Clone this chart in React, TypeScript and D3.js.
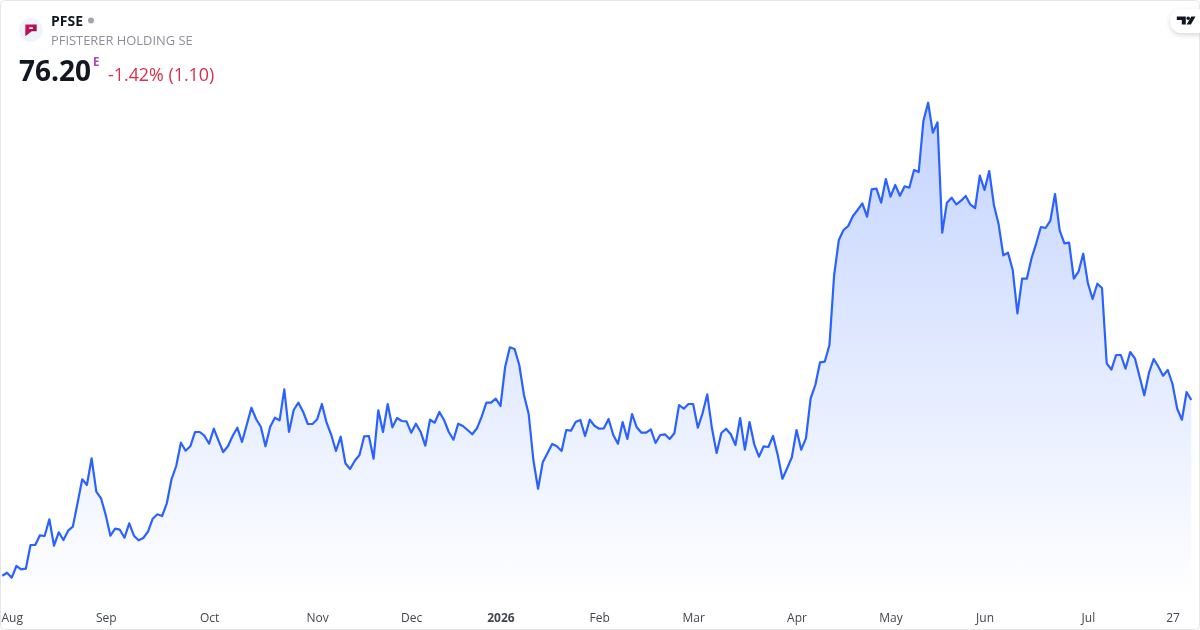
import React, { useEffect, useRef } from 'react';
import * as d3 from 'd3';

const width = 1200;
const height = 630;

// closing prices
const prices = [
  41.06, 41.66, 40.66, 43.0, 42.34, 42.46, 47.2, 47.2, 49.14, 49.0, 52.34, 47.06, 49.74, 48.2, 50.06, 50.86,
  55.54, 60.34, 59.2, 64.54, 57.86, 56.54, 53.2, 49.06, 50.46, 50.26, 48.66, 51.54, 49.06, 48.14, 48.6, 49.86,
  52.46, 53.34, 53.0, 55.54, 60.34, 63.0, 67.66, 66.06, 66.94, 69.8, 69.8, 69.06, 67.46, 70.46, 68.06, 65.8,
  66.94, 69.0, 70.66, 67.8, 71.2, 74.66, 72.4, 70.86, 66.94, 70.86, 72.66, 72.14, 78.34, 69.8, 74.2, 75.66,
  73.86, 71.4, 71.4, 72.34, 75.4, 71.66, 69.2, 66.0, 68.86, 63.54, 62.4, 64.06, 65.2, 68.94, 69.0, 64.46,
  74.14, 69.8, 75.4, 70.74, 72.6, 72.0, 71.94, 69.66, 71.46, 69.86, 67.06, 72.26, 71.66, 73.8, 72.2, 69.8,
  68.26, 71.46, 71.0, 70.2, 69.34, 70.54, 72.86, 75.66, 75.66, 76.46, 75.0, 82.86, 86.74, 86.4, 83.2, 77.2,
  73.4, 64.2, 58.46, 63.74, 65.54, 67.4, 66.94, 66.0, 70.2, 70.06, 71.8, 72.2, 69.0, 72.26, 71.06, 70.46,
  70.54, 72.4, 69.2, 67.46, 71.8, 68.4, 73.4, 70.74, 69.66, 69.66, 70.34, 67.6, 69.2, 69.34, 68.4, 69.54,
  75.2, 74.46, 75.4, 75.4, 70.66, 73.54, 77.34, 70.54, 65.6, 69.6, 70.46, 69.34, 67.2, 72.6, 66.26, 71.8,
  67.34, 64.86, 66.94, 66.8, 69.0, 65.2, 60.46, 62.54, 64.74, 70.2, 66.26, 68.54, 76.54, 79.2, 83.74, 83.86,
  87.2, 101.2, 108.2, 110.2, 111.0, 113.0, 114.2, 115.54, 112.86, 118.34, 118.46, 115.66, 120.4, 116.86, 119.2, 117.06,
  118.94, 118.66, 122.2, 121.8, 132.06, 135.66, 129.66, 131.74, 109.66, 115.66, 116.66, 115.34, 116.06, 117.0, 115.26, 114.6,
  121.06, 118.2, 122.0, 115.2, 111.34, 105.14, 105.66, 102.2, 93.54, 100.46, 100.46, 104.54, 107.54, 110.8, 110.6, 112.06,
  117.4, 110.06, 107.54, 107.66, 100.46, 101.86, 105.46, 99.54, 96.4, 99.46, 98.6, 83.54, 82.26, 85.2, 85.2, 82.46,
  85.8, 84.54, 80.86, 77.14, 81.66, 84.4, 82.86, 81.06, 82.2, 79.4, 74.46, 72.26, 77.8, 76.2,
];

// month labels and the trading day each one sits on
const tickLabels = ['Aug', 'Sep', 'Oct', 'Nov', 'Dec', '2026', 'Feb', 'Mar', 'Apr', 'May', 'Jun', 'Jul', '27'];
const tickDays = [2, 22, 44, 67, 87, 106, 127, 147, 169, 189, 209, 231, 249];

const x = d3.scaleLinear().domain([0, prices.length - 1]).range([2.33, 1191.3]);
const y = d3.scaleLinear().domain([36.2, 136.2]).range([600, 100]);

const line = d3.line<number>()
  .x((d, i) => x(i))
  .y(d => y(d));

const area = d3.area<number>()
  .x((d, i) => x(i))
  .y0(600)
  .y1(d => y(d));

const font = "'Open Sans', sans-serif";

export default function App() {
  const axisRef = useRef<SVGGElement>(null);

  useEffect(() => {
    const xAxis = d3.axisBottom(x)
      .tickValues(tickDays)
      .tickSize(0)
      .tickFormat((d, i) => tickLabels[i]);

    const g = d3.select(axisRef.current).call(xAxis as any);
    g.select('.domain').remove();
    g.selectAll('text')
      .attr('y', 0)
      .attr('dy', 0)
      .style('font-family', font)
      .style('font-size', '12px')
      .style('fill', '#42464f')
      .style('font-weight', (d, i) => (tickLabels[i] === '2026' ? 700 : 400));
  }, []);

  return (
    <svg width={width} height={height} style={{ position: 'fixed', left: 0, top: 0 }}>
      <defs>
        <linearGradient id="fill" gradientUnits="userSpaceOnUse" x1="0" y1="100" x2="0" y2="600">
          <stop offset="0" stopColor="#2962ff" stopOpacity={0.28} />
          <stop offset="1" stopColor="#2962ff" stopOpacity={0} />
        </linearGradient>
        <linearGradient id="logo" x1="0" y1="0" x2="1" y2="1">
          <stop offset="0" stopColor="#d9115f" />
          <stop offset="1" stopColor="#8c0f47" />
        </linearGradient>
        <filter id="badge" x="-30%" y="-30%" width="160%" height="170%">
          <feDropShadow dx="0" dy="2" stdDeviation="2.5" floodColor="#000" floodOpacity={0.16} />
        </filter>
      </defs>

      <rect x={0.5} y={0.5} width={width - 1} height={height - 1} rx={4} fill="#fff" stroke="#e6e6e6" />

      <path d={area(prices) as string} fill="url(#fill)" />
      <path d={line(prices) as string} fill="none" stroke="#2962ff" strokeWidth={2.2} strokeLinejoin="round" />

      <g ref={axisRef} transform="translate(0, 622)" />

      <circle cx={30.7} cy={30} r={12} fill="#f0f3fa" />
      <path d="M25.3 24.6h11.4v6.6h-5l-6.4 5z M29.3 27.2v1.7h3.6v-1.7z" fill="url(#logo)" fillRule="evenodd" />

      <text x={51} y={26} fontFamily={font} fontSize={14} fontWeight={700} fill="#131722">PFSE</text>
      <circle cx={91} cy={20.5} r={3} fill="#a3a6af" />
      <text x={51} y={45} fontFamily={font} fontSize={12.9} fill="#8c8f99">PFISTERER HOLDING SE</text>
      <text x={19} y={81} fontFamily={font} fontSize={28} fontWeight={700} fill="#131722">76.20</text>
      <text x={93} y={66} fontFamily={font} fontSize={11.5} fontWeight={700} fill="#ab47bc">E</text>
      <text x={108} y={81} fontFamily={font} fontSize={17.85} fill="#d8304a">-1.42% (1.10)</text>

      <path d="M1200 9h-18a12 12 0 0 0 0 24h18z" fill="#fff" filter="url(#badge)" />
      <path d="M1176.8 16.5h9v8h-4v-4.6h-5z M1191.3 16.5h4.2l-4.6 8h-4.3z" fill="#131722" />
      <circle cx={1188.2} cy={18.2} r={1.7} fill="#131722" />
    </svg>
  );
}
